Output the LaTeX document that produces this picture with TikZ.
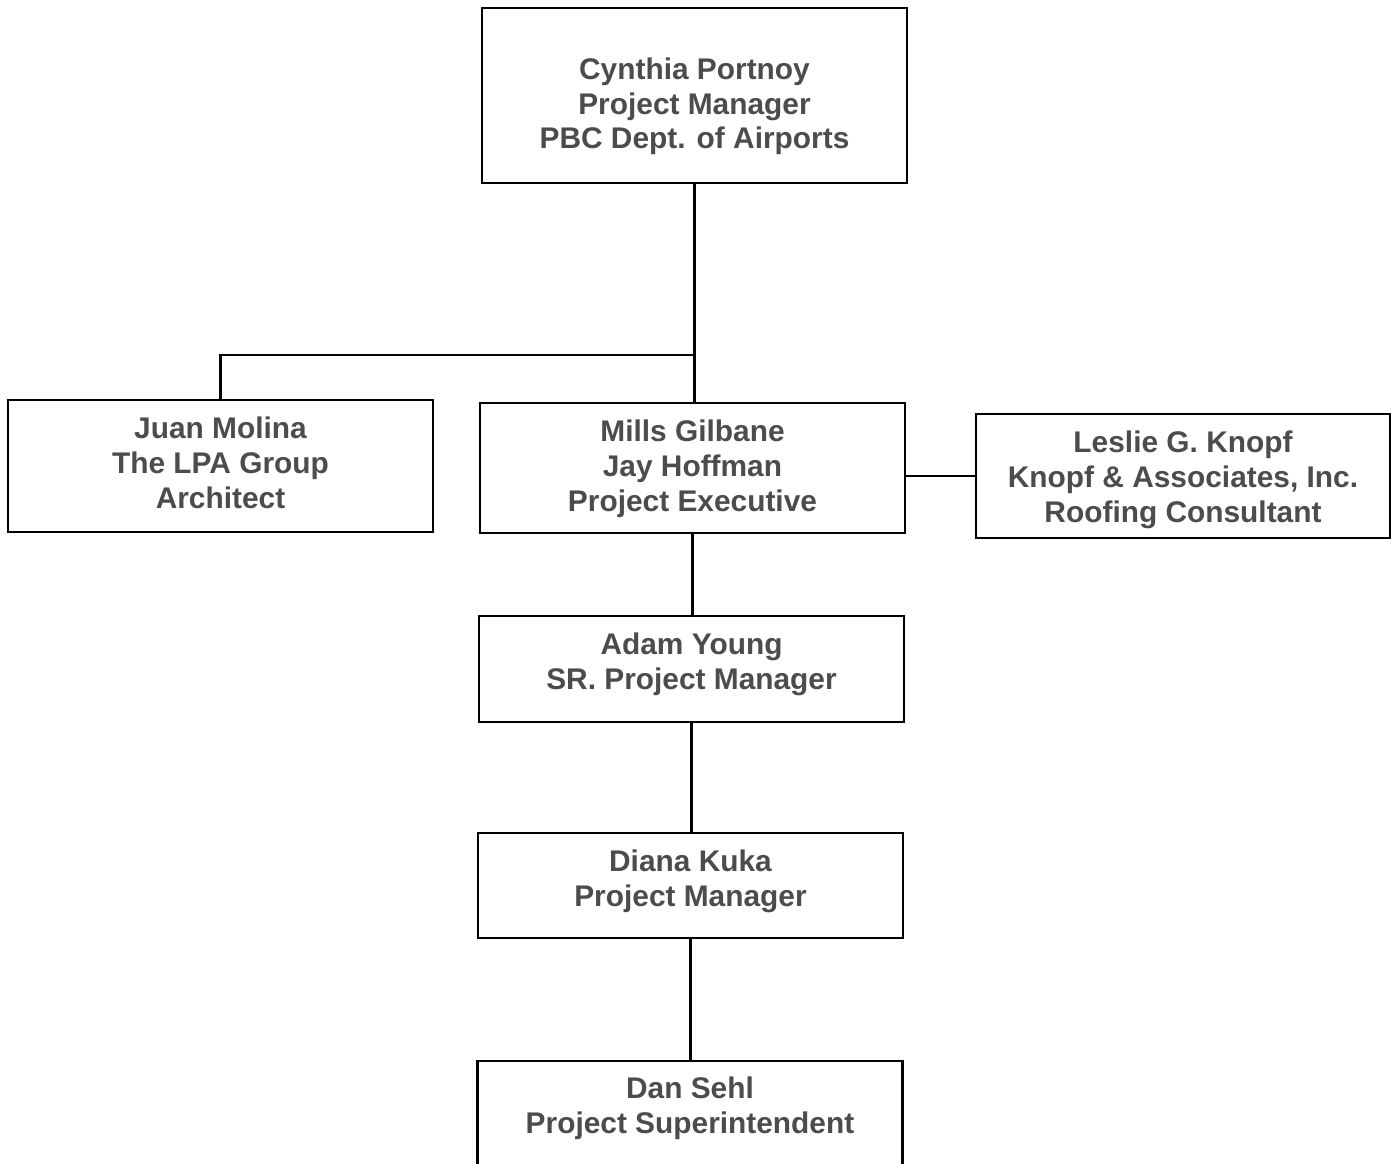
\documentclass[tikz,border=0pt]{standalone}
\usepackage{fontspec}
\setmainfont{Liberation Sans}
\usetikzlibrary{positioning}

\begin{document}
\begin{tikzpicture}[
      x=0.02cm, y=-0.02cm,
      every node/.style={font=\fontsize{17}{19.9}\selectfont\bfseries, text=black!70},
      box/.style={rectangle,draw=black,line width=1.3pt,align=center,minimum width=8.5cm,
                  inner sep=0pt,text depth=0pt},
      link/.style={draw=black,line width=1.3pt}
  ]
  % Seitenformat
  \clip (0,0) rectangle (1395,1163);
  \useasboundingbox (0,0) rectangle (1395,1163);

  % ===================== Kopf: Auftraggeber =====================
  \node[box,minimum height=3.5cm,text height=2.14cm] (portnoy) at (694.5,95.5)
      {Cynthia Portnoy\\Project Manager\\PBC Dept. of Airports};

  % ===================== zweite Ebene =====================
  \node[box,minimum height=2.64cm,text height=1.68cm] (molina) at (220.5,466)
      {Juan Molina\\The LPA Group\\Architect};
  \node[box,minimum height=2.6cm,text height=1.72cm] (gilbane) at (692.5,468)
      {Mills Gilbane\\Jay Hoffman\\Project Executive};
  \node[box,minimum width=8.28cm,minimum height=2.48cm,text height=1.84cm] (knopf) at (1183,476)
      {Leslie G. Knopf\\Knopf \& Associates, Inc.\\Roofing Consultant};

  % ===================== Baustelle =====================
  \node[box,minimum height=2.12cm,text height=0.8cm] (young) at (691.5,669)
      {Adam Young\\SR. Project Manager};
  \node[box,minimum height=2.1cm,text height=0.82cm] (kuka) at (690.5,885.5)
      {Diana Kuka\\Project Manager};
  \node[box,minimum height=2.1cm,text height=0.78cm] (sehl) at (690,1113.5)
      {Dan Sehl\\Project Superintendent};

  % ===================== Linien =====================
  \coordinate (knick) at (portnoy.south |- 0,355);
  \draw[link] (portnoy.south) -- (portnoy.south |- gilbane.north);
  \draw[link] (knick) -| (molina.north);
  \draw[link] (knopf.west -| gilbane.east) -- (knopf.west);
  \draw[link] (gilbane.south) -- (gilbane.south |- young.north);
  \draw[link] (young.south) -- (young.south |- kuka.north);
  \draw[link] (kuka.south) -- (kuka.south |- sehl.north);

\end{tikzpicture}
\end{document}
